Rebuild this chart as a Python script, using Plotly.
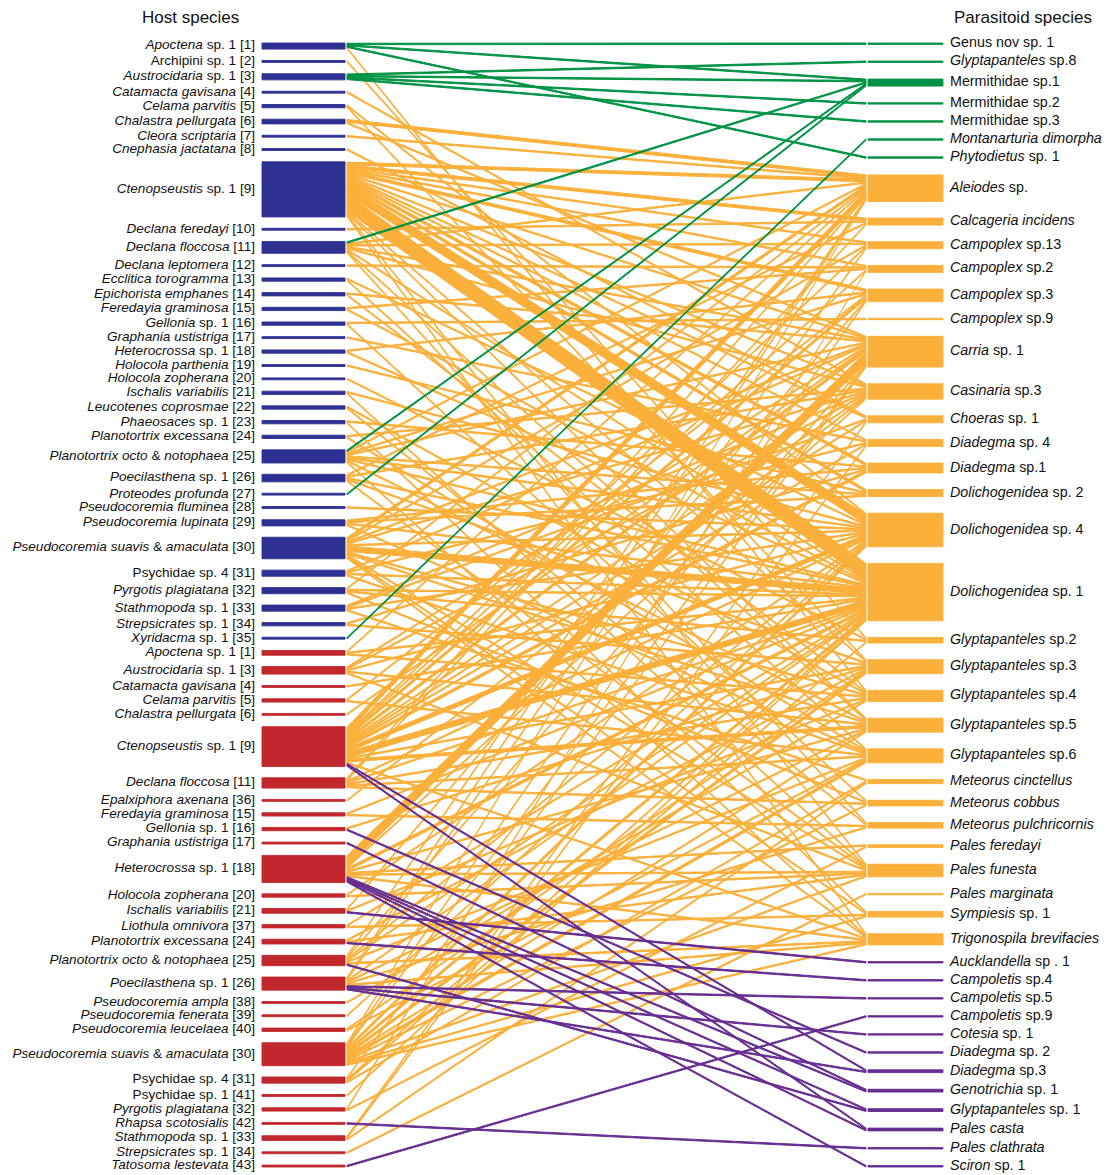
import plotly.graph_objects as go

# ---------------- data ----------------
host_keys = ["b1","b2","b3","b4","b5","b6","b7","b8","b9","b10","b11","b12","b13","b14","b15","b16","b17","b18",
             "b19","b20","b21","b22","b23","b24","b25","b26","b27","b28","b29","b30","b31","b32","b33","b34","b35",
             "r1","r3","r4","r5","r6","r9","r11","r36","r15","r16","r17","r18","r20","r21","r37","r24","r25","r26",
             "r38","r39","r40","r30","r31","r41","r32","r42","r33","r34","r43"]
host_labels = [
    "<i>Apoctena</i> sp. 1 [1]", "Archipini sp. 1 [2]", "<i>Austrocidaria</i> sp. 1 [3]", "<i>Catamacta gavisana</i> [4]",
    "<i>Celama parvitis</i> [5]", "<i>Chalastra pellurgata</i> [6]", "<i>Cleora scriptaria</i> [7]",
    "<i>Cnephasia jactatana</i> [8]", "<i>Ctenopseustis</i> sp. 1 [9]", "<i>Declana feredayi</i> [10]",
    "<i>Declana floccosa</i> [11]", "<i>Declana leptomera</i> [12]", "<i>Ecclitica torogramma</i> [13]",
    "<i>Epichorista emphanes</i> [14]", "<i>Feredayia graminosa</i> [15]", "<i>Gellonia</i> sp. 1 [16]",
    "<i>Graphania ustistriga</i> [17]", "<i>Heterocrossa</i> sp. 1 [18]", "<i>Holocola parthenia</i> [19]",
    "<i>Holocola zopherana</i> [20]", "<i>Ischalis variabilis</i> [21]", "<i>Leucotenes coprosmae</i> [22]",
    "<i>Phaeosaces</i> sp. 1 [23]", "<i>Planotortrix excessana</i> [24]", "<i>Planotortrix octo</i> & <i>notophaea</i> [25]",
    "<i>Poecilasthena</i> sp. 1 [26]", "<i>Proteodes profunda</i> [27]", "<i>Pseudocoremia fluminea</i> [28]",
    "<i>Pseudocoremia lupinata</i> [29]", "<i>Pseudocoremia suavis</i> & <i>amaculata</i> [30]", "Psychidae sp. 4 [31]",
    "<i>Pyrgotis plagiatana</i> [32]", "<i>Stathmopoda</i> sp. 1 [33]", "<i>Strepsicrates</i> sp. 1 [34]",
    "<i>Xyridacma</i> sp. 1 [35]",
    "<i>Apoctena</i> sp. 1 [1]", "<i>Austrocidaria</i> sp. 1 [3]", "<i>Catamacta gavisana</i> [4]",
    "<i>Celama parvitis</i> [5]", "<i>Chalastra pellurgata</i> [6]", "<i>Ctenopseustis</i> sp. 1 [9]",
    "<i>Declana floccosa</i> [11]", "<i>Epalxiphora axenana</i> [36]", "<i>Feredayia graminosa</i> [15]",
    "<i>Gellonia</i> sp. 1 [16]", "<i>Graphania ustistriga</i> [17]", "<i>Heterocrossa</i> sp. 1 [18]",
    "<i>Holocola zopherana</i> [20]", "<i>Ischalis variabilis</i> [21]", "<i>Liothula omnivora</i> [37]",
    "<i>Planotortrix excessana</i> [24]", "<i>Planotortrix octo</i> & <i>notophaea</i> [25]",
    "<i>Poecilasthena</i> sp. 1 [26]", "<i>Pseudocoremia ampla</i> [38]", "<i>Pseudocoremia fenerata</i> [39]",
    "<i>Pseudocoremia leucelaea</i> [40]", "<i>Pseudocoremia suavis</i> & <i>amaculata</i> [30]",
    "Psychidae sp. 4 [31]", "Psychidae sp. 1 [41]", "<i>Pyrgotis plagiatana</i> [32]", "<i>Rhapsa scotosialis</i> [42]",
    "<i>Stathmopoda</i> sp. 1 [33]", "<i>Strepsicrates</i> sp. 1 [34]", "<i>Tatosoma lestevata</i> [43]"]

para_keys = ["Gen","Gl8","M1","M2","M3","Mon","Phy",
             "Ale","Cal","C13","C2","C3","C9","Car","Cas","Cho","D4","D1","Do2","Do4","Do1",
             "Gl2","Gl3","Gl4","Gl5","Gl6","Mci","Mco","Mpu","Pfe","Pfu","Pma","Sym","Tri",
             "Auc","Cp4","Cp5","Cp9","Cot","D2","D3","Gno","Gl1","Pca","Pcl","Sci"]
para_labels = [
    "Genus nov sp. 1", "<i>Glyptapanteles</i> sp.8", "Mermithidae sp.1", "Mermithidae sp.2", "Mermithidae sp.3",
    "<i>Montanarturia dimorpha</i>", "<i>Phytodietus</i> sp. 1",
    "<i>Aleiodes</i> sp.", "<i>Calcageria incidens</i>", "<i>Campoplex</i> sp.13", "<i>Campoplex</i> sp.2",
    "<i>Campoplex</i> sp.3", "<i>Campoplex</i> sp.9", "<i>Carria</i> sp. 1", "<i>Casinaria</i> sp.3",
    "<i>Choeras</i> sp. 1", "<i>Diadegma</i> sp. 4", "<i>Diadegma</i> sp.1", "<i>Dolichogenidea</i> sp. 2",
    "<i>Dolichogenidea</i> sp. 4", "<i>Dolichogenidea</i> sp. 1", "<i>Glyptapanteles</i> sp.2",
    "<i>Glyptapanteles</i> sp.3", "<i>Glyptapanteles</i> sp.4", "<i>Glyptapanteles</i> sp.5",
    "<i>Glyptapanteles</i> sp.6", "<i>Meteorus cinctellus</i>", "<i>Meteorus cobbus</i>",
    "<i>Meteorus pulchricornis</i>", "<i>Pales feredayi</i>", "<i>Pales funesta</i>", "<i>Pales marginata</i>",
    "<i>Sympiesis</i> sp. 1", "<i>Trigonospila brevifacies</i>",
    "<i>Aucklandella</i> sp . 1", "<i>Campoletis</i> sp.4", "<i>Campoletis</i> sp.5", "<i>Campoletis</i> sp.9",
    "<i>Cotesia</i> sp. 1", "<i>Diadegma</i> sp. 2", "<i>Diadegma</i> sp.3", "<i>Genotrichia</i> sp. 1",
    "<i>Glyptapanteles</i> sp. 1", "<i>Pales casta</i>", "<i>Pales clathrata</i>", "<i>Sciron</i> sp. 1"]
para_groups = ["green"] * 7 + ["orange"] * 27 + ["purple"] * 12

# interactions (host, parasitoid, number of records) – first sampling series (blue hosts)
links_blue = [
    ("b1","Gen",1),("b1","M1",1),("b1","Phy",1),("b1","Gl4",1),
    ("b2","Gl2",1),
    ("b3","Gl8",1),("b3","M1",1),("b3","M2",1),("b3","M3",1),
    ("b4","Cas",1),
    ("b5","Do4",1),("b5","Gl3",1),
    ("b6","Ale",2),("b6","Car",1),
    ("b7","Ale",1),
    ("b8","Cho",1),
    ("b9","Ale",2),("b9","Cal",2),("b9","C13",1),("b9","C2",1),("b9","C3",2),("b9","Car",1),("b9","Cas",1),
    ("b9","Cho",1),("b9","D4",1),("b9","D1",2),("b9","Do2",2),("b9","Do4",7),("b9","Do1",12),("b9","Gl3",1),
    ("b9","Gl5",1),("b9","Pfu",1),("b9","Tri",1),
    ("b10","Cal",1),
    ("b11","M1",1),("b11","Ale",1),("b11","C13",1),("b11","Car",1),("b11","Cas",1),("b11","Do1",1),("b11","Gl5",1),
    ("b11","Mpu",1),
    ("b12","C2",1),
    ("b13","Do4",1),("b13","Gl6",1),
    ("b14","Car",1),("b14","Gl4",1),
    ("b15","C2",1),("b15","Do1",1),
    ("b16","C9",1),("b16","Mco",1),
    ("b17","D4",1),
    ("b18","C3",1),("b18","Do1",1),
    ("b19","Do2",1),
    ("b20","Gl2",1),
    ("b21","Do4",1),("b21","Pfu",1),
    ("b22","Mpu",1),("b22","Gl4",1),
    ("b23","D1",1),("b23","Sym",1),
    ("b24","Cas",1),("b24","Gl6",1),
    ("b25","M1",1),("b25","Ale",1),("b25","C3",1),("b25","Car",1),("b25","Do2",1),("b25","Do4",1),("b25","Do1",1),
    ("b25","Gl5",1),("b25","Tri",1),
    ("b26","Cal",1),("b26","Cas",1),("b26","Do1",1),("b26","Gl3",1),("b26","Pfu",1),
    ("b27","M1",1),
    ("b28","Do4",1),
    ("b29","Do2",1),("b29","D1",1),("b29","Do1",1),("b29","Gl6",1),
    ("b30","Ale",2),("b30","C13",1),("b30","Car",1),("b30","Cas",1),("b30","Do4",1),("b30","Do1",4),("b30","Gl4",1),
    ("b30","Gl5",1),("b30","Pfu",1),("b30","Sym",1),("b30","Tri",1),
    ("b31","Car",1),("b31","D4",1),("b31","Do1",1),("b31","Gl6",1),
    ("b32","Ale",1),("b32","Mco",1),("b32","Do1",1),("b32","Gl2",1),
    ("b33","Cas",1),("b33","Cho",1),("b33","Do4",1),("b33","Mci",1),
    ("b34","D1",1),("b34","Gl3",1),
    ("b35","Mon",1),
]
# second sampling series (red hosts)
links_red = [
    ("r1","Ale",1),("r1","Do1",1),("r1","Gl4",1),
    ("r3","Car",1),("r3","Cas",1),("r3","Do4",1),("r3","Gl5",1),("r3","Pfu",1),
    ("r4","Do1",1),
    ("r5","C3",1),("r5","Gl6",1),
    ("r6","Car",1),
    ("r9","Ale",4),("r9","C13",1),("r9","C2",1),("r9","C3",2),("r9","Car",2),("r9","Cas",1),("r9","Cho",1),
    ("r9","D4",1),("r9","D1",2),("r9","Do4",3),("r9","Do1",4),("r9","Gl3",1),("r9","Gl5",2),("r9","Tri",1),
    ("r9","D3",1),("r9","Pca",1),
    ("r11","Ale",1),("r11","Cal",1),("r11","Do4",1),("r11","Do1",1),("r11","Gl4",1),("r11","Gl6",1),("r11","Mco",1),
    ("r36","Cas",1),
    ("r15","Do1",1),("r15","Mpu",1),
    ("r16","Gl3",1),("r16","D2",1),
    ("r17","Gno",1),
    ("r18","Car",8),("r18","Cas",1),("r18","Do1",2),("r18","Gl5",1),("r18","Pfe",1),("r18","Pfu",1),("r18","Tri",1),
    ("r18","Gno",1),("r18","Gl1",1),("r18","Pca",1),("r18","Sci",1),
    ("r20","Do4",1),("r20","Pfu",1),
    ("r21","C3",1),("r21","Gl4",1),("r21","Auc",1),
    ("r37","Do1",1),("r37","Sym",1),
    ("r24","Gl3",1),("r24","Pfu",1),("r24","Cp4",1),
    ("r25","Ale",1),("r25","Car",1),("r25","Do4",1),("r25","Do1",1),("r25","Gl6",1),("r25","Tri",1),("r25","Gl1",1),
    ("r26","Ale",1),("r26","C13",1),("r26","Do1",1),("r26","Gl5",1),("r26","Mpu",1),("r26","Tri",1),
    ("r26","Cp5",1),("r26","Cot",1),("r26","D3",1),
    ("r38","Gl4",1),
    ("r39","Do4",1),
    ("r40","Gl3",1),("r40","Gl6",1),
    ("r30","Ale",1),("r30","Car",1),("r30","C3",1),("r30","Do4",2),("r30","Do1",2),("r30","Gl3",2),("r30","Gl5",1),
    ("r30","Gl6",2),("r30","Pfu",1),("r30","Sym",1),("r30","Tri",1),("r30","Mco",1),
    ("r31","Car",1),("r31","Do1",1),("r31","Gl2",1),("r31","Mci",1),
    ("r41","Do1",1),
    ("r32","C2",1),("r32","Pfe",1),
    ("r42","Pcl",1),
    ("r33","Cho",1),("r33","Mci",1),("r33","D4",1),
    ("r34","Pma",1),
    ("r43","Cp9",1),
]

# ---------------- styling constants ----------------
COL = {"blue": "#2E3192", "red": "#C1272D", "green": "#009245", "orange": "#FBB03B", "purple": "#662D91"}
TOP, BOTTOM = 43.0, 1167.0
SCALE = 1.4
PAD = {"host": 0.5, "para": 0.0}
HB_X0, HB_X1 = 262, 345
PB_X0, PB_X1 = 868, 943
LK_X0, LK_X1 = 347, 866
FONT = "Liberation Sans, Arial, sans-serif"

links = links_blue + links_red
h_index = {k: i for i, k in enumerate(host_keys)}
p_index = {k: i for i, k in enumerate(para_keys)}

def layout(keys, idx, pos, pad):
    tot = [0.0] * len(keys)
    for l in links:
        tot[idx[l[pos]]] += l[2]
    heights = [t * SCALE + pad for t in tot]
    gap = (BOTTOM - TOP - sum(heights)) / (len(keys) - 1)
    tops, y = [], TOP
    for h in heights:
        tops.append(y)
        y += h + gap
    return tops, heights

h_tops, h_heights = layout(host_keys, h_index, 0, PAD["host"])
p_tops, p_heights = layout(para_keys, p_index, 1, PAD["para"])
h_centers = [t + h / 2 for t, h in zip(h_tops, h_heights)]
p_centers = [t + h / 2 for t, h in zip(p_tops, p_heights)]

# link end segments: stacked at hosts by parasitoid order, at parasitoids by host order
h_off = [t + PAD["host"] / 2 for t in h_tops]
seg_h = {}
for l in sorted(links, key=lambda l: (h_index[l[0]], p_index[l[1]])):
    i = h_index[l[0]]
    seg_h[(l[0], l[1])] = (h_off[i], h_off[i] + l[2] * SCALE)
    h_off[i] += l[2] * SCALE
p_off = [t + PAD["para"] / 2 for t in p_tops]
seg_p = {}
for l in sorted(links, key=lambda l: (p_index[l[1]], h_index[l[0]])):
    j = p_index[l[1]]
    seg_p[(l[0], l[1])] = (p_off[j], p_off[j] + l[2] * SCALE)
    p_off[j] += l[2] * SCALE

fig = go.Figure()

for grp in ["orange", "green", "purple"]:
    xs, ys = [], []
    for l in links:
        if para_groups[p_index[l[1]]] != grp:
            continue
        a0, a1 = seg_h[(l[0], l[1])]
        b0, b1 = seg_p[(l[0], l[1])]
        xs += [LK_X0, LK_X1, LK_X1, LK_X0, LK_X0, None]
        ys += [a0, b0, b1, a1, a0, None]
    fig.add_trace(go.Scatter(x=xs, y=ys, mode="lines", fill="toself", fillcolor=COL[grp],
                             line=dict(color=COL[grp], width=1.0), hoverinfo="skip"))

host_cols = [COL["blue"] if k.startswith("b") else COL["red"] for k in host_keys]
fig.add_trace(go.Bar(orientation="h", y=h_centers, x=[HB_X1 - HB_X0] * len(host_keys), base=HB_X0,
                     width=h_heights, marker=dict(color=host_cols, line=dict(color=host_cols, width=0.9)),
                     hoverinfo="skip"))
para_cols = [COL[g] for g in para_groups]
fig.add_trace(go.Bar(orientation="h", y=p_centers, x=[PB_X1 - PB_X0] * len(para_keys), base=PB_X0,
                     width=p_heights, marker=dict(color=para_cols, line=dict(color=para_cols, width=0.9)),
                     hoverinfo="skip"))

fig.add_trace(go.Scatter(x=[255] * len(host_keys), y=h_centers, mode="text", text=host_labels,
                         textposition="middle left", textfont=dict(family=FONT, size=13.6, color="#111"),
                         hoverinfo="skip"))
fig.add_trace(go.Scatter(x=[950] * len(para_keys), y=p_centers, mode="text", text=para_labels,
                         textposition="middle right", textfont=dict(family=FONT, size=14.3, color="#111"),
                         hoverinfo="skip"))

fig.add_annotation(x=190, y=17, text="Host species", showarrow=False, font=dict(family=FONT, size=17, color="#111"))
fig.add_annotation(x=1023, y=17, text="Parasitoid species", showarrow=False,
                   font=dict(family=FONT, size=17, color="#111"))

fig.update_layout(width=1107, height=1175, margin=dict(l=0, r=0, t=0, b=0), showlegend=False,
                  plot_bgcolor="white", paper_bgcolor="white", barmode="overlay", bargap=0,
                  xaxis=dict(range=[0, 1107], visible=False, fixedrange=True),
                  yaxis=dict(range=[1175, 0], visible=False, fixedrange=True))
fig.write_html("out.html", config={"displayModeBar": False, "staticPlot": True},
               post_script="document.body.style.margin='0px';")
